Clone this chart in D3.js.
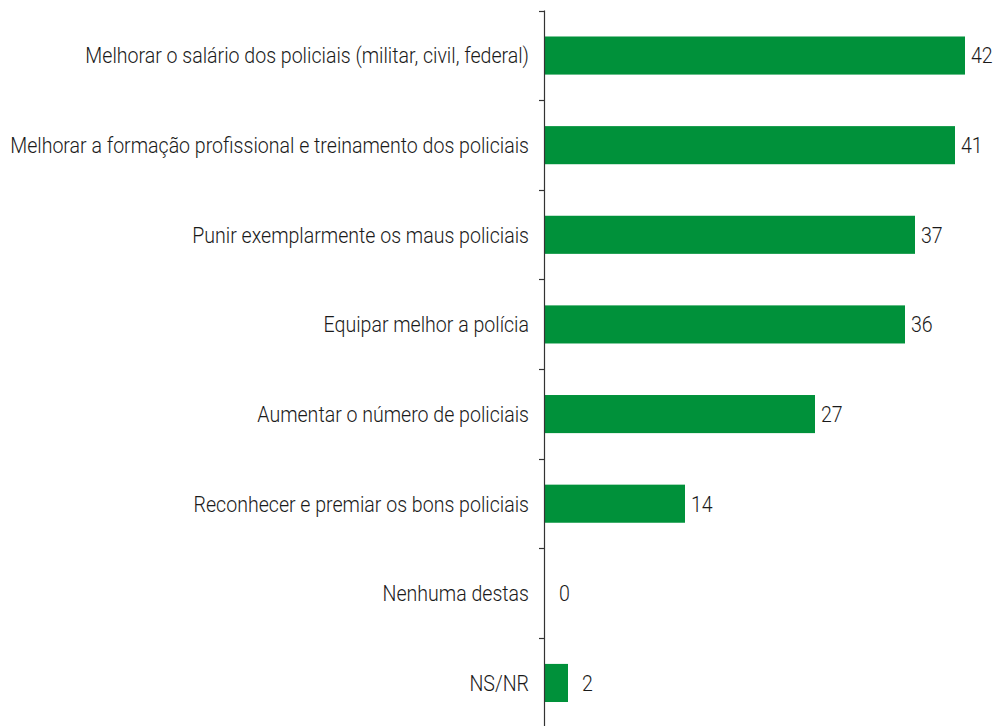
<!DOCTYPE html>
<html>
<head>
<meta charset="utf-8">
<script src="https://cdn.jsdelivr.net/npm/d3@7"></script>
<style>
  body { margin: 0; background: #fff; }
  text { font-family: Roboto, "DejaVu Sans", sans-serif; font-weight: 300; fill: #1a1a1a; }
</style>
</head>
<body>
<div id="chart"></div>
<script>
// Chart data
var categories = [
    'Melhorar o salário dos policiais (militar, civil, federal)',
    'Melhorar a formação profissional e treinamento dos policiais',
    'Punir exemplarmente os maus policiais',
    'Equipar melhor a polícia',
    'Aumentar o número de policiais',
    'Reconhecer e premiar os bons policiais',
    'Nenhuma destas',
    'NS/NR'
]
var values = [42, 41, 37, 36, 27, 14, 0, 2.3]

var width = 998,
    height = 726,
    axisX = 545,
    plotTop = 10.5,
    plotBottom = 728,
    fontSize = 22,
    widestLabel = 519

var x = d3.scaleLinear()
    .domain([0, 42])
    .range([axisX, axisX + 420])

var y = d3.scaleBand()
    .domain(categories)
    .range([plotTop, plotBottom])
    .paddingInner(0.575)
    .paddingOuter(0.29)

var fmt = d3.format('.0f')

var svg = d3.select('#chart')
    .append('svg')
    .attr('width', width)
    .attr('height', height)

// Bars
svg.selectAll('rect.bar')
    .data(values)
    .enter()
    .append('rect')
    .attr('class', 'bar')
    .attr('x', x(0))
    .attr('y', function(d, i) { return y(categories[i]) })
    .attr('width', function(d) { return x(d) - x(0) })
    .attr('height', y.bandwidth())
    .attr('fill', '#00913a')

// Axis line and ticks between bands
var step = y.step()
var tickYs = d3.range(categories.length).map(function(i) { return plotTop + i * step })

svg.append('line')
    .attr('x1', axisX - 0.5).attr('x2', axisX - 0.5)
    .attr('y1', plotTop).attr('y2', height)
    .attr('stroke', '#333')
    .attr('stroke-width', 1.2)

svg.selectAll('line.tick')
    .data(tickYs)
    .enter()
    .append('line')
    .attr('class', 'tick')
    .attr('x1', axisX - 6).attr('x2', axisX)
    .attr('y1', function(d) { return Math.round(d) + 0.5 })
    .attr('y2', function(d) { return Math.round(d) + 0.5 })
    .attr('stroke', '#333')
    .attr('stroke-width', 1.2)

// Category labels (squeezed horizontally to look like a condensed face)
var cats = svg.selectAll('g.cat')
    .data(categories)
    .enter()
    .append('g')
    .attr('class', 'cat')

cats.append('text')
    .attr('dy', '0.36em')
    .attr('text-anchor', 'end')
    .style('font-size', fontSize + 'px')
    .text(function(d) { return d })

var maxW = d3.max(cats.selectAll('text').nodes(), function(n) { return n.getComputedTextLength() })
var k = widestLabel / maxW

cats.attr('transform', function(d) {
    return 'translate(' + (axisX - 16) + ',' + (y(d) + y.bandwidth() / 2) + ') scale(' + k + ',1)'
})

// Value labels
svg.selectAll('g.val')
    .data(values)
    .enter()
    .append('g')
    .attr('class', 'val')
    .attr('transform', function(d, i) {
        var lx = x(d) + (d < 5 ? 14 : 6)
        return 'translate(' + lx + ',' + (y(categories[i]) + y.bandwidth() / 2) + ') scale(' + k + ',1)'
    })
    .append('text')
    .attr('dy', '0.36em')
    .style('font-size', fontSize + 'px')
    .text(function(d) { return fmt(d) })
</script>
</body>
</html>
